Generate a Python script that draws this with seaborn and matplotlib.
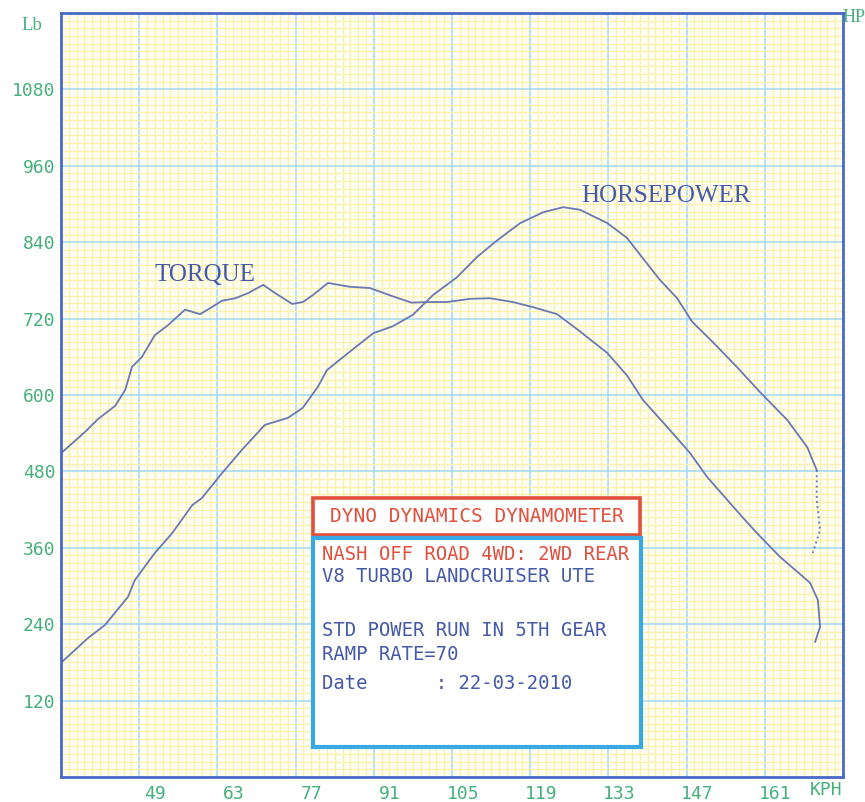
import matplotlib
matplotlib.use("Agg")
import matplotlib.pyplot as plt
import matplotlib.patches as mpatches
import matplotlib.transforms as mtransforms
import seaborn as sns

# readings off the dyno sheet (kph vs lb / hp)
torque_kph = [35.2, 39.3, 41.6, 44.7, 46.5, 47.7, 49.5, 51.8, 54.2, 57.2, 59.9, 62.0,
              63.8, 66.2, 68.5, 71.2, 73.0, 76.4, 78.3, 80.1, 82.8, 86.7, 90.3, 94.4,
              97.8, 100.5, 104.1, 108.2, 111.8, 115.9, 119.5, 123.8, 127.6, 132.8,
              136.3, 139.2, 143.5, 147.6, 150.7, 156.6, 159.6, 163.7, 169.1, 170.5,
              170.9, 170.0]
torque_lb = [510, 542, 562, 583, 608, 644, 660, 694, 710, 734, 727, 738,
             748, 752, 760, 773, 762, 743, 746, 757, 776, 770, 768, 755,
             745, 746, 746, 751, 752, 746, 738, 727, 702, 666,
             631, 592, 550, 509, 471, 412, 383, 346, 305, 278,
             236, 212]

hp_kph = [35.2, 39.8, 42.9, 47.0, 48.2, 51.8, 54.9, 58.5, 60.2, 63.8, 67.4, 71.5,
          75.6, 78.3, 81.0, 82.6, 86.7, 90.9, 94.4, 98.0, 101.6, 105.9, 109.5,
          113.1, 117.2, 121.3, 124.9, 127.9, 132.8, 136.3, 138.7, 142.2, 145.3,
          148.0, 151.7, 156.0, 160.1, 165.0, 168.6, 170.3]
hp_vals = [181, 218, 239, 283, 309, 352, 383, 427, 438, 477, 514, 553,
           564, 580, 613, 639, 668, 697, 708, 726, 757, 785, 817,
           843, 870, 887, 895, 891, 870, 847, 820, 781, 752,
           715, 683, 644, 605, 561, 518, 482]
# dotted run-out at the end of the hp trace
hp_tail_kph = [170.3, 170.3, 170.9, 169.6]
hp_tail_vals = [482, 435, 388, 352]

x_ticks = [49, 63, 77, 91, 105, 119, 133, 147, 161]
y_ticks = [120, 240, 360, 480, 600, 720, 840, 960, 1080]

info_lines = ["V8 TURBO LANDCRUISER UTE", "", "STD POWER RUN IN 5TH GEAR",
              "RAMP RATE=70", "Date      : 22-03-2010"]

sns.set_theme(style="white")
plt.rcParams["font.family"] = ["DejaVu Sans"]

GREEN = "#45b07c"
FRAME = "#4a68c8"
TRACE = "#6a78b4"
BLUE_TXT = "#4658a8"
RED = "#e0503c"

fig = plt.figure(figsize=(8.65, 8.02), dpi=100)
fig.patch.set_facecolor("white")
ax = fig.add_axes([61 / 865, 25 / 802, 782 / 865, 764 / 802])
ax.set_facecolor("#fffef2")

sns.lineplot(x=torque_kph, y=torque_lb, sort=False, estimator=None, ax=ax,
             color=TRACE, lw=1.3)
sns.lineplot(x=hp_kph, y=hp_vals, sort=False, estimator=None, ax=ax,
             color=TRACE, lw=1.3)
sns.lineplot(x=hp_tail_kph, y=hp_tail_vals, sort=False, estimator=None, ax=ax,
             color=TRACE, lw=1.4, linestyle=":")

ax.set_xlim(35, 175)
ax.set_ylim(0, 1200)
ax.set_xticks(x_ticks)
ax.set_yticks(y_ticks)
ax.set_xticks([35 + 1.4 * i for i in range(101)], minor=True)
ax.set_yticks([12 * i for i in range(101)], minor=True)
ax.grid(which="minor", color="#f8f2b2", lw=1.0)
ax.grid(which="major", color="#a2d8f2", lw=1.1)
ax.set_axisbelow(True)
ax.tick_params(which="both", length=0)
ax.tick_params(axis="y", pad=4)
ax.tick_params(axis="x", pad=6)
ax.set_xlabel("")
ax.set_ylabel("")

for lab in ax.get_yticklabels():
    lab.set_fontfamily("DejaVu Sans Mono")
    lab.set_fontsize(13)
    lab.set_color(GREEN)
offset = mtransforms.ScaledTranslation(0.27, 0, fig.dpi_scale_trans)
for lab in ax.get_xticklabels():
    lab.set_fontfamily("DejaVu Sans Mono")
    lab.set_fontsize(13)
    lab.set_color(GREEN)
    lab.set_ha("right")
    lab.set_transform(lab.get_transform() + offset)

for sp in ax.spines.values():
    sp.set_color(FRAME)
    sp.set_linewidth(2.0)
    sp.set_visible(True)

fig.text(32 / 865, 1 - 25 / 802, "Lb", color=GREEN, fontsize=13.5, family="Liberation Serif",
         ha="center", va="center")
fig.text(854 / 865, 1 - 17 / 802, "HP", color=GREEN, fontsize=13, family="Liberation Serif",
         ha="center", va="center")
fig.text(842 / 865, 1 - 790 / 802, "KPH", color=GREEN, fontsize=13, family="DejaVu Sans Mono",
         ha="right", va="center")

ax.text(60.8, 788, "TORQUE", color=BLUE_TXT, fontsize=18, family="Liberation Serif",
        ha="center", va="center")
ax.text(143.3, 913, "HORSEPOWER", color=BLUE_TXT, fontsize=18, family="Liberation Serif",
        ha="center", va="center")

# info boxes on the sheet
red_box = mpatches.Rectangle((0.3223, 0.3168), 0.4181, 0.0484, transform=ax.transAxes,
                             facecolor="white", edgecolor=RED, lw=2.6, zorder=5)
blue_box = mpatches.Rectangle((0.3223, 0.0393), 0.4194, 0.2735, transform=ax.transAxes,
                              facecolor="white", edgecolor="#3aa8e2", lw=3.0, zorder=5)
ax.add_patch(red_box)
ax.add_patch(blue_box)
ax.text(0.532, 0.3410, "DYNO DYNAMICS DYNAMOMETER", transform=ax.transAxes, color=RED,
        fontsize=14, family="DejaVu Sans Mono", ha="center", va="center", zorder=6)
ax.text(0.3335, 0.2906, "NASH OFF ROAD 4WD: 2WD REAR", transform=ax.transAxes, color=RED,
        fontsize=13.6, family="DejaVu Sans Mono", ha="left", va="center", zorder=6)
line_y = [0.2618, 0.2270, 0.1924, 0.1597, 0.1230]
for txt, yy in zip(info_lines, line_y):
    ax.text(0.3335, yy, txt, transform=ax.transAxes, color=BLUE_TXT, fontsize=13.6,
            family="DejaVu Sans Mono", ha="left", va="center", zorder=6)

fig.savefig("out.png", dpi=100)
